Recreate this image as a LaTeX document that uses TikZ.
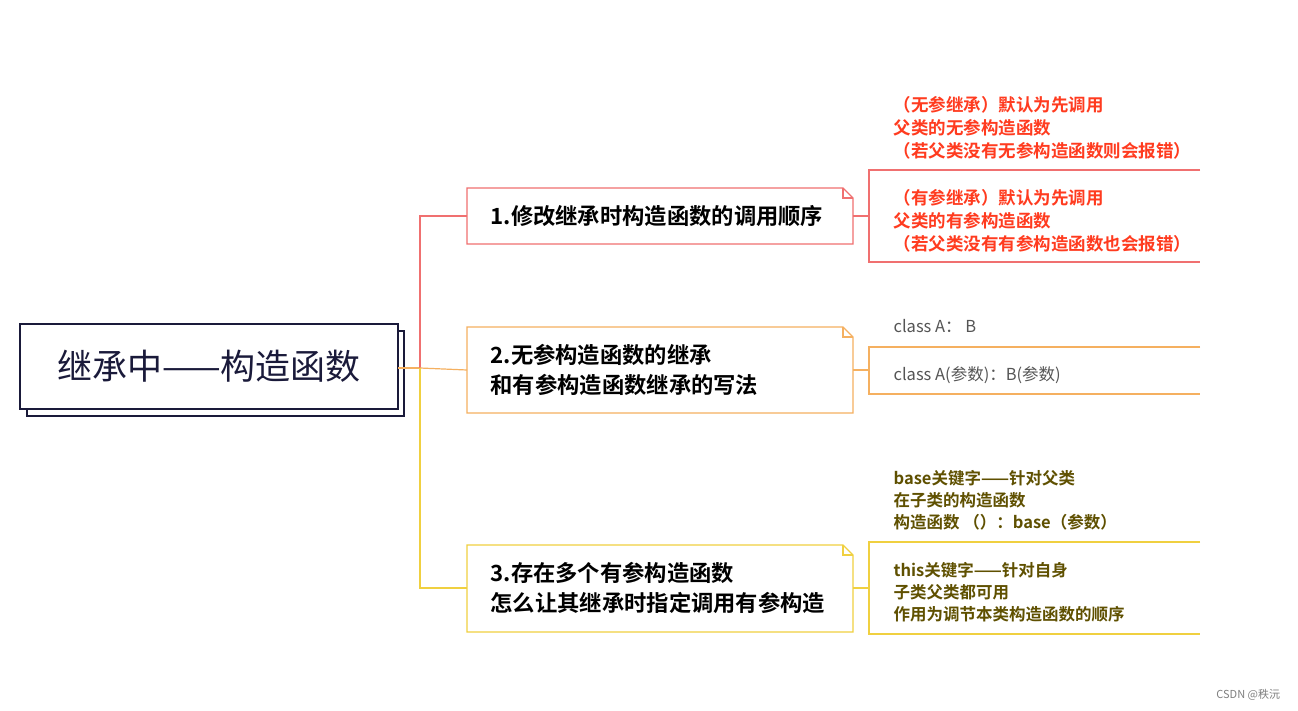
\documentclass[tikz,border=0pt]{standalone}
\usepackage{fontspec}
\setmainfont{Noto Sans CJK SC}
\newfontfamily\cjkb{Noto Sans CJK SC Bold}
\definecolor{cR}{HTML}{F07070}
\definecolor{cO}{HTML}{F5B060}
\definecolor{cY}{HTML}{F0D040}
\definecolor{tR}{HTML}{FF3B1F}
\definecolor{tG}{HTML}{555555}
\definecolor{tY}{HTML}{5F5000}
\definecolor{dk}{HTML}{1A1A3A}
\tikzset{
 topic/.style={anchor=west,align=left,font=\cjkb\fontsize{22.3}{30}\selectfont,inner sep=0pt},
 leaf/.style={anchor=west,align=left,inner sep=0pt},
}
\newcommand{\dogbox}[4]{% x1,y1,x2,y2 with color in scope
  \draw (#1,#2) -- ({#3-10},#2) -- (#3,{#2+10}) -- (#3,#4) -- (#1,#4) -- cycle;
  \draw ({#3-10},#2) -- ({#3-10},{#2+10}) -- (#3,{#2+10});}
\begin{document}
\begin{tikzpicture}[x=1pt,y=-1pt,line width=1.2pt]
\useasboundingbox[fill=white] (0,0) rectangle (1298,711);
% root
\draw[dk,fill=white] (27,331) rectangle (404,416);
\draw[dk,fill=white] (20,324) rectangle (398,409);
\node[font=\fontsize{35}{40}\selectfont,text=dk] (root) at (209,366) {继承中——构造函数};
\coordinate (j) at (420,368);
\draw[cO] (398,368) -- (j);
% branches
\draw[cR] (j) -- (420,216) -- (467,216);
\draw[cO] (j) -- (467,370);
\draw[cY] (j) -- (420,588) -- (467,588);
% box 1
\begin{scope}[cR]\dogbox{467}{188}{853}{244}\end{scope}
\node[topic] (t1) at (490,216) {1.修改继承时构造函数的调用顺序};
\draw[cR] (853,216) -- (869,216);
\draw[cR] (1200,170) -- (869,170) -- (869,262) -- (1200,262);
\node[leaf,font=\cjkb\fontsize{17.5}{23}\selectfont,text=tR] (l1a) at (893,128) {（无参继承）默认为先调用\\父类的无参构造函数\\（若父类没有无参构造函数则会报错）};
\node[leaf,font=\cjkb\fontsize{17.5}{23}\selectfont,text=tR] (l1b) at (893,221) {（有参继承）默认为先调用\\父类的有参构造函数\\（若父类没有有参构造函数也会报错）};
% box 2
\begin{scope}[cO]\dogbox{467}{327}{853}{413}\end{scope}
\node[topic] (t2) at (490,370) {2.无参构造函数的继承\\和有参构造函数继承的写法};
\draw[cO] (853,370) -- (869,370);
\draw[cO] (1200,347) -- (869,347) -- (869,394) -- (1200,394);
\node[leaf,font=\fontsize{16.5}{23}\selectfont,text=tG] (l2a) at (893,326) {class A： B};
\node[leaf,font=\fontsize{16.5}{23}\selectfont,text=tG] (l2b) at (893,375) {class A(参数)：B(参数)};
% box 3
\begin{scope}[cY]\dogbox{467}{545}{853}{632}\end{scope}
\node[topic] (t3) at (490,588) {3.存在多个有参构造函数\\怎么让其继承时指定调用有参构造};
\draw[cY] (853,588) -- (869,588);
\draw[cY] (1200,542) -- (869,542) -- (869,634) -- (1200,634);
\node[leaf,font=\cjkb\fontsize{16.5}{22}\selectfont,text=tY] (l3a) at (893,500) {base关键字——针对父类\\在子类的构造函数\\构造函数 （）：base（参数）};
\node[leaf,font=\cjkb\fontsize{16.5}{22}\selectfont,text=tY] (l3b) at (893,592) {this关键字——针对自身\\子类父类都可用\\作用为调节本类构造函数的顺序};
\node[font=\fontsize{11}{12}\selectfont,text=gray,anchor=east] (wm) at (1284,695) {CSDN @秩沅};
\end{tikzpicture}
\end{document}
